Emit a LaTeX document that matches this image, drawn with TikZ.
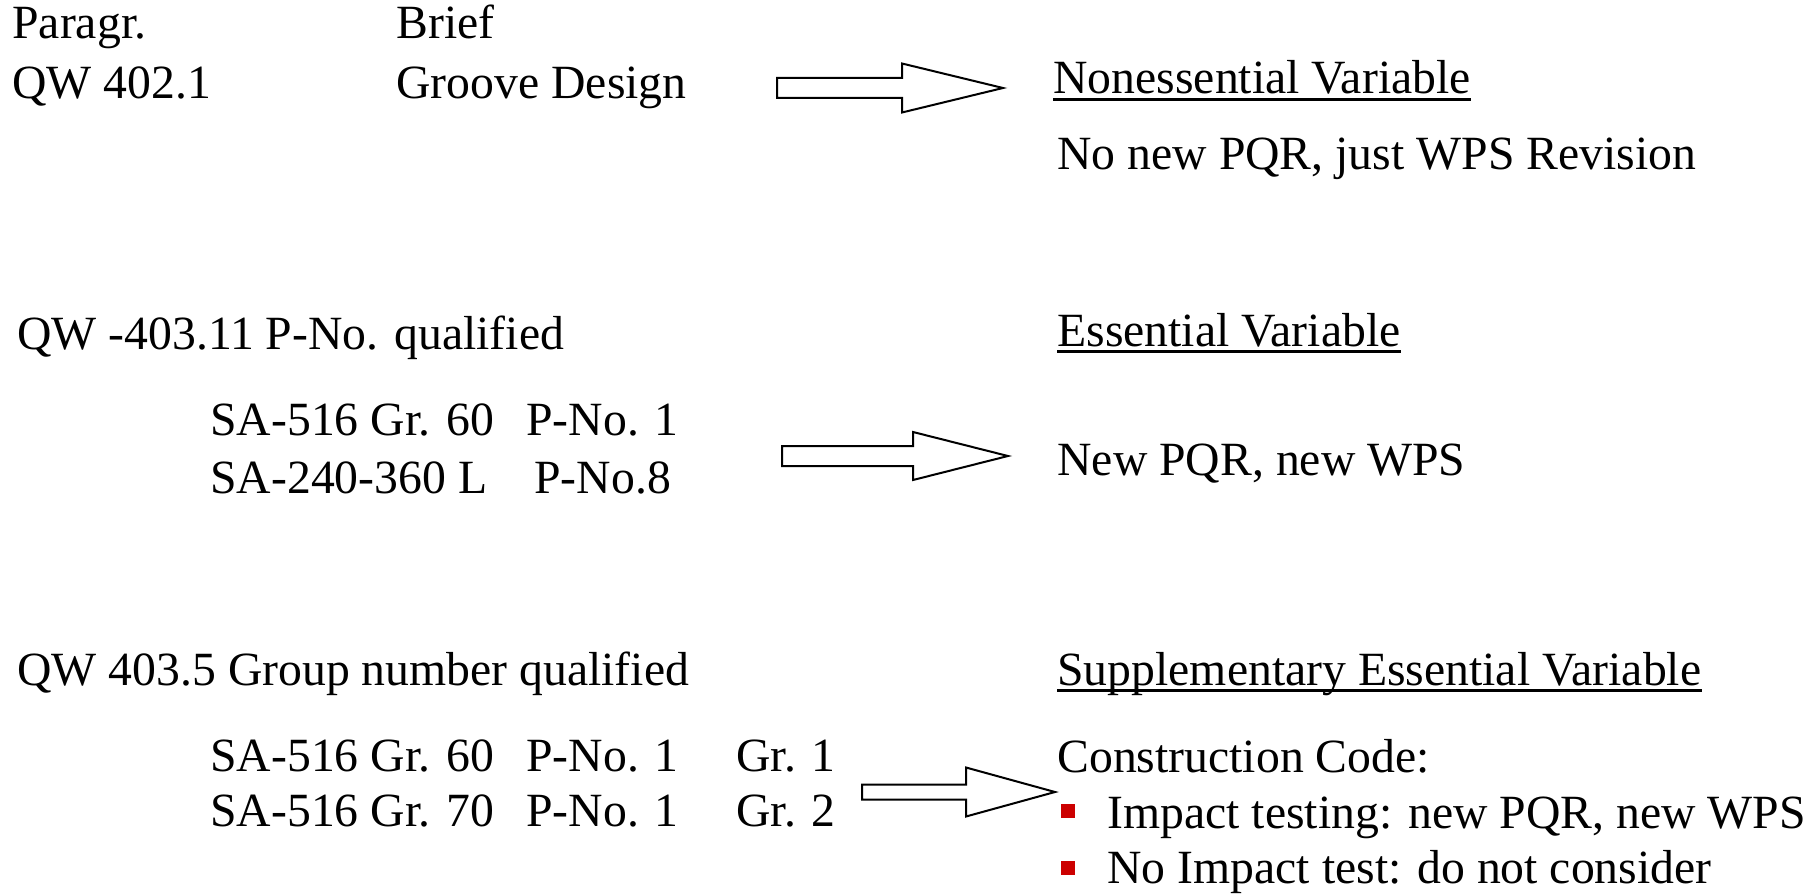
\documentclass[tikz,border=0pt]{standalone}
\usepackage{fontspec}
\setmainfont{Liberation Serif}
\definecolor{bulletred}{RGB}{204,0,0}
\tikzset{
txt/.style={anchor=base west,inner sep=0pt},
uline/.style={line width=1.4pt},
blockarr/.style={draw,line width=1pt,fill=white,line join=miter},
bullet/.style={fill=bulletred,inner sep=0pt,minimum size=7pt}}

\begin{document}
\begin{tikzpicture}[x=0.5pt,y=-0.5pt,font=\fontsize{23.85pt}{29pt}\selectfont]
\useasboundingbox (0,0) rectangle (1818,893);
% row 1
\node[txt] (parhead) at (12,39) {Paragr.};
\node[txt] (briefhead) at (396,39) {Brief};
\node[txt] (par1) at (12,99) {QW 402.1};
\node[txt] (brief1) at (396,99) {Groove Design};
\node[txt] (var1) at (1053,94) {Nonessential Variable};
\node[txt] (res1) at (1057,170) {No new PQR, just WPS Revision};
% row 2
\node[txt] (par2) at (17,349) {QW -403.11 P-No. qualified};
\node[txt] (var2) at (1057,346) {Essential Variable};
\node[txt] (mat2a) at (210,435) {SA-516 Gr. 60};
\node[txt] (pno2a) at (526,435) {P-No. 1};
\node[txt] (mat2b) at (210,493) {SA-240-360 L};
\node[txt] (pno2b) at (534,493) {P-No.8};
\node[txt] (res2) at (1057,475) {New PQR, new WPS};
% row 3
\node[txt] (par3) at (17,685) {QW 403.5 Group number qualified};
\node[txt] (var3) at (1057,685) {Supplementary Essential Variable};
\node[txt] (mat3a) at (210,771) {SA-516 Gr. 60};
\node[txt] (pno3a) at (526,771) {P-No. 1};
\node[txt] (grp3a) at (736,771) {Gr. 1};
\node[txt] (mat3b) at (210,826) {SA-516 Gr. 70};
\node[txt] (pno3b) at (526,826) {P-No. 1};
\node[txt] (grp3b) at (736,826) {Gr. 2};
\node[txt] (res3) at (1057,772) {Construction Code:};
\node[bullet] (dot1) at (1068,811) {};
\node[txt] (item1) at (1107,828) {Impact testing: new PQR, new WPS};
\node[bullet] (dot2) at (1068,868) {};
\node[txt] (item2) at (1107,883) {No Impact test: do not consider};

\foreach \n in {var1,var2,var3}
  \draw[uline] ([yshift=-2.6pt]\n.base west) -- ([yshift=-2.6pt]\n.base east);

% block arrows: tail/neck/tip/centre/shaft/head
\foreach \xa/\xb/\xc/\yc/\hs/\hh in {777/902/1003/88/10/24.5,
                                     782/913/1008/456/10/24,
                                     862/966/1055/792/7.5/24.5}
  \draw[blockarr] (\xa,\yc-\hs) -- (\xb,\yc-\hs) -- (\xb,\yc-\hh) -- (\xc,\yc)
     -- (\xb,\yc+\hh) -- (\xb,\yc+\hs) -- (\xa,\yc+\hs) -- cycle;
\end{tikzpicture}
\end{document}
